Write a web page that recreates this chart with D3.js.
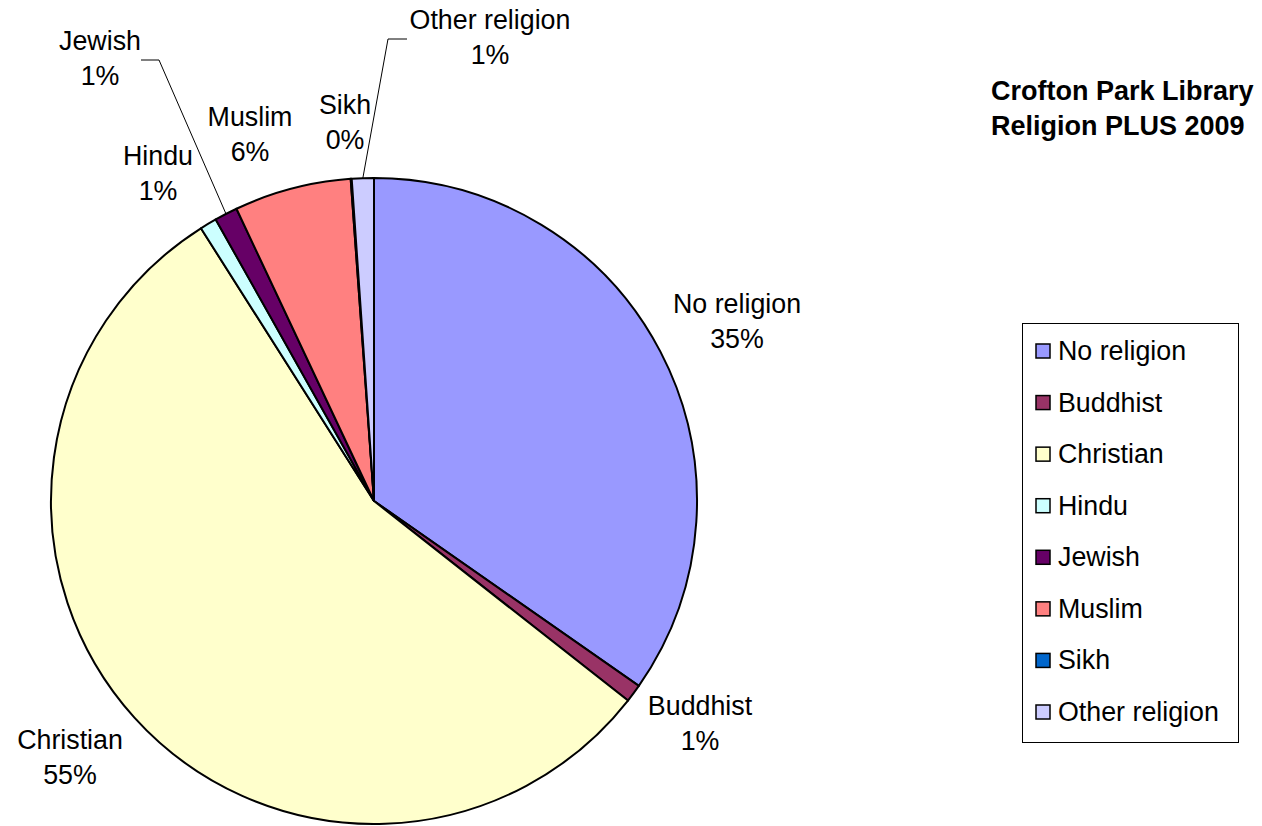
<!DOCTYPE html>
<html>
<head>
<meta charset="utf-8">
<script src="https://cdn.jsdelivr.net/npm/d3@7"></script>
<style>
  html, body { margin: 0; padding: 0; background: #ffffff; }
  svg { display: block; }
  text { font-family: "Liberation Sans", Arial, sans-serif; fill: #000; }
</style>
</head>
<body>
<svg id="chart" width="1262" height="826"></svg>
<script>
// Religion breakdown, share of members (%)
const categories = ["No religion", "Buddhist", "Christian", "Hindu", "Jewish", "Muslim", "Sikh", "Other religion"];
const values     = [34.7, 0.9, 55.4, 0.85, 1.15, 5.85, 0.05, 1.1];
const colors     = ["#9999FF", "#993366", "#FFFFCC", "#CCFFFF", "#660066", "#FF8080", "#0066CC", "#CCCCFF"];
const titleLines = ["Crofton Park Library", "Religion PLUS 2009"];

// Label placement for each slice: text centre and optional leader elbow
const labelLayout = [
  { x: 737, y: 304 },
  { x: 700, y: 706 },
  { x: 70,  y: 740 },
  { x: 158, y: 156 },
  { x: 100, y: 41,  elbow: [[141, 60], [159, 60]] },
  { x: 250, y: 117 },
  { x: 345, y: 105 },
  { x: 490, y: 20,  elbow: [[407, 39], [388, 39]] }
];

const svg = d3.select("#chart");
const cx = 374, cy = 501, r = 323;
const fontSize = 26.8;
const lineGap = 35;

const data = categories.map((c, i) => ({ name: c, value: values[i], color: colors[i], layout: labelLayout[i] }));
const total = d3.sum(values);

const pie = d3.pie().value(d => d.value).sort(null);
const arc = d3.arc().innerRadius(0).outerRadius(r);
const arcs = pie(data);

const g = svg.append("g").attr("transform", `translate(${cx},${cy})`);

g.selectAll("path.slice")
  .data(arcs)
  .join("path")
  .attr("class", "slice")
  .attr("d", arc)
  .attr("fill", d => d.data.color)
  .attr("stroke", "#000")
  .attr("stroke-width", 2)
  .attr("stroke-linejoin", "round");

// Leader lines for labels that sit away from their slice
arcs.forEach(a => {
  const L = a.data.layout;
  if (!L.elbow) return;
  const mid = (a.startAngle + a.endAngle) / 2;
  const px = cx + r * Math.sin(mid), py = cy - r * Math.cos(mid);
  const pts = L.elbow.concat([[px, py]]);
  svg.append("path")
    .attr("d", d3.line()(pts))
    .attr("fill", "none")
    .attr("stroke", "#000")
    .attr("stroke-width", 1);
});

// Slice labels: name and rounded percentage
const fmtPct = v => Math.round(v / total * 100) + "%";
const labels = svg.append("g").selectAll("g.lbl")
  .data(arcs)
  .join("g")
  .attr("class", "lbl")
  .attr("transform", d => `translate(${d.data.layout.x},${d.data.layout.y})`);

labels.append("text")
  .attr("text-anchor", "middle")
  .attr("dominant-baseline", "central")
  .attr("font-size", fontSize)
  .text(d => d.data.name);
labels.append("text")
  .attr("text-anchor", "middle")
  .attr("dominant-baseline", "central")
  .attr("font-size", fontSize)
  .attr("y", lineGap)
  .text(d => fmtPct(d.data.value));

// Title
svg.append("g").selectAll("text")
  .data(titleLines)
  .join("text")
  .attr("x", 991)
  .attr("y", (d, i) => 91 + i * 35)
  .attr("dominant-baseline", "central")
  .attr("font-size", 27)
  .attr("font-weight", "bold")
  .text(d => d);

// Legend
const legX = 1022, legY = 323, legW = 216, legH = 419;
const legend = svg.append("g");
legend.append("rect")
  .attr("x", legX + 0.5).attr("y", legY + 0.5)
  .attr("width", legW).attr("height", legH)
  .attr("fill", "#fff").attr("stroke", "#000").attr("stroke-width", 1);

const legScale = d3.scalePoint().domain(categories).range([351, 712]);
const items = legend.selectAll("g.item")
  .data(data)
  .join("g")
  .attr("class", "item")
  .attr("transform", d => `translate(0,${legScale(d.name)})`);
items.append("rect")
  .attr("x", 1036).attr("y", -7)
  .attr("width", 14).attr("height", 14)
  .attr("fill", d => d.color)
  .attr("stroke", "#000").attr("stroke-width", 1.5);
items.append("text")
  .attr("x", 1058)
  .attr("dominant-baseline", "central")
  .attr("font-size", fontSize)
  .text(d => d.name);
</script>
</body>
</html>
